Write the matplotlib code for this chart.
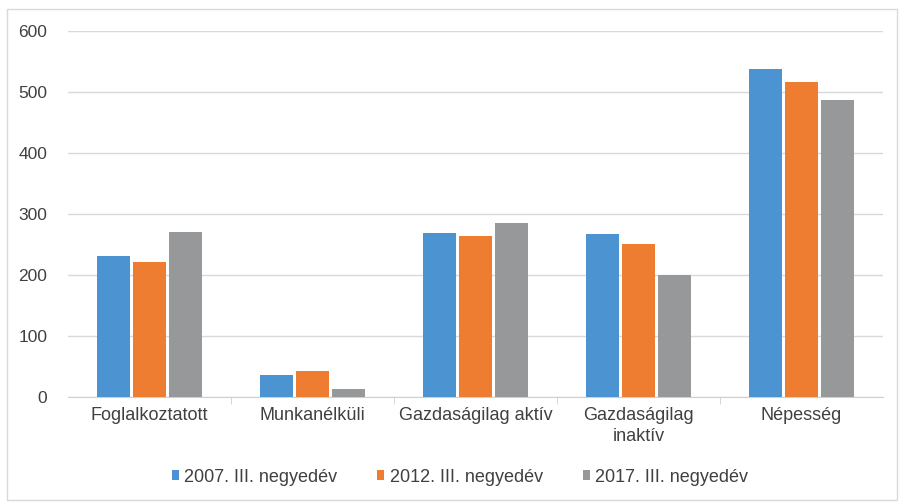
import numpy as np
import matplotlib
matplotlib.use('Agg')
from matplotlib import pyplot as plt
from matplotlib.patches import Rectangle

plt.rcParams['font.family'] = ['Liberation Sans', 'DejaVu Sans']

categories = ['Foglalkoztatott', 'Munkanélküli', 'Gazdaságilag aktív',
              'Gazdaságilag\ninaktív', 'Népesség']
series = ['2007. III. negyedév', '2012. III. negyedév', '2017. III. negyedév']
v2007 = [231, 36, 269, 267, 537]
v2012 = [221, 43, 264, 251, 517]
v2017 = [271, 13, 286, 200, 487]
colors = ['#4B93D1', '#EE7D32', '#979899']

fig = plt.figure(figsize=(8.99, 5.04), dpi=100)
ax = fig.add_axes([68/899, 1-397/504, 815/899, 366/504])

x = np.arange(len(categories))
w = 0.205
for i, (vals, lab) in enumerate(zip([v2007, v2012, v2017], series)):
    ax.bar(x + (i-1)*0.22, vals, w, color=colors[i], label=lab, zorder=3)

ax.set_xlim(-0.5, len(categories)-0.5)
ax.set_ylim(0, 600)
ax.set_yticks(range(0, 601, 100))
ax.grid(axis='y', color='#d9d9d9', lw=1, zorder=0)
for s in ['top', 'right', 'left']:
    ax.spines[s].set_visible(False)
ax.spines['bottom'].set_color('#d0d0d0')
ax.set_xticks(x)
ax.set_xticklabels(categories, fontsize=13, color='#404040', linespacing=1.3)
ax.set_xticks(np.arange(0.5, len(categories)-0.5), minor=True)
ax.tick_params(axis='x', which='major', length=0, pad=7)
ax.tick_params(axis='x', which='minor', length=5, color='#d0d0d0')
ax.tick_params(axis='y', length=0, labelsize=12.5, labelcolor='#404040', pad=15)

leg = fig.legend(loc='center', bbox_to_anchor=(460/899, 1-477/504), ncol=3,
                 frameon=False, fontsize=13, handlelength=0.4, handleheight=0.4,
                 handletextpad=0.3, columnspacing=2.2)
for t in leg.get_texts():
    t.set_color('#404040')

fig.patches.append(Rectangle((7/899, 4/504), 890/899, 491/504, transform=fig.transFigure,
                             fill=False, edgecolor='#d9d9d9', lw=1))

fig.savefig('out.png', dpi=100)
